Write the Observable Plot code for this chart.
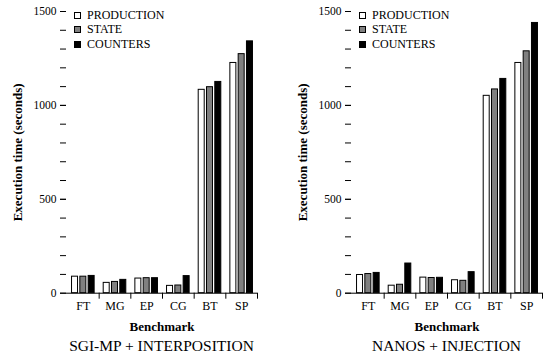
<!DOCTYPE html>
<html><head><meta charset="utf-8">
<script src="https://cdn.jsdelivr.net/npm/d3@7"></script>
<script src="https://cdn.jsdelivr.net/npm/@observablehq/plot@0.6"></script>
<style>
body{margin:0;background:#fff;font-family:"Liberation Serif",serif;}
#wrap{display:flex;width:545px;height:359px;}
.panel{position:relative;}
.panel svg text{font-family:"Liberation Serif",serif !important;}
.legend{position:absolute;font-size:12px;color:#000;}
.legend .row{display:flex;align-items:center;height:14.5px;}
.legend .sw{width:5px;height:5px;border:1px solid #000;margin-right:6px;}
.caption{font-size:15.5px;text-align:center;height:24px;line-height:22px;color:#000;}
[aria-label="y-axis label"],[aria-label="x-axis label"]{font-weight:bold;font-size:13px;}
</style></head><body><div id="wrap"></div>
<script>
const benchmarks = ["FT","MG","EP","CG","BT","SP"];
const seriesNames = ["PRODUCTION","STATE","COUNTERS"];
const seriesFills = ["white","#808080","black"];
const sgiProduction = [88,55,78,39,1083,1226];
const sgiState      = [88,60,80,41,1097,1273];
const sgiCounters   = [92,71,80,91,1125,1341];
const nanosProduction = [97,40,83,69,1051,1226];
const nanosState      = [102,45,81,66,1085,1288];
const nanosCounters   = [108,158,82,112,1141,1439];
const yTicksMajor = [0,500,1000,1500];
const yTicksMinor = [0,100,200,300,400,500,600,700,800,900,1000,1100,1200,1300,1400,1500];
const yLabel = "Execution time (seconds)";
const xLabel = "Benchmark";

function panel({width, marginLeft, marginRight, series, caption}) {
  const height = 335, marginTop = 11, marginBottom = 42.3;
  const insetL = 1;
  const bw = (width - marginLeft - marginRight - insetL) / benchmarks.length;
  const barW = 6, step = 8.3;
  const start = (bw - (2 * step + barW)) / 2;
  const bars = series.map((vals, i) =>
    Plot.barY(benchmarks.map((b, j) => ({benchmark: b, value: vals[j]})), {
      x: "benchmark", y: "value", fill: seriesFills[i], stroke: "black", strokeWidth: 1,
      insetLeft: start + i * step, insetRight: bw - (start + i * step + barW)
    }));
  const chart = Plot.plot({
    width, height, marginTop, marginBottom, marginLeft, marginRight,
    style: {fontFamily: "'Liberation Serif', serif", fontSize: "11.5px", background: "white", color: "black", overflow: "visible"},
    x: {domain: benchmarks, padding: 0, insetLeft: insetL, round: false},
    y: {domain: [0, 1500]},
    marks: [
      ...bars,
      Plot.ruleY([0], {stroke: "black"}),
      Plot.axisY(yTicksMinor, {tickSize: 6, tickFormat: () => "", label: null, stroke: "black"}),
      Plot.axisY(yTicksMajor, {tickSize: 6, tickPadding: 4, tickFormat: d => String(d), label: yLabel, labelAnchor: "center", labelArrow: "none", labelOffset: 54, line: true, stroke: "black", fill: "black"}),
      Plot.axisX({tickSize: 6, tickFormat: () => "", dx: bw / 2, label: null, stroke: "black"}),
      Plot.axisX({tickSize: 0, tickPadding: 8, label: xLabel, labelAnchor: "center", labelArrow: "none", labelOffset: 38, fill: "black", fontSize: 12})
    ]
  });
  const div = document.createElement("div");
  div.className = "panel";
  div.style.width = width + "px";
  div.appendChild(chart);
  const leg = document.createElement("div");
  leg.className = "legend";
  leg.style.left = (marginLeft + 8) + "px";
  leg.style.top = (marginTop - 3) + "px";
  seriesNames.forEach((n, i) => {
    const r = document.createElement("div"); r.className = "row";
    const s = document.createElement("div"); s.className = "sw"; s.style.background = seriesFills[i];
    const t = document.createElement("span"); t.textContent = n;
    r.appendChild(s); r.appendChild(t); leg.appendChild(r);
  });
  div.appendChild(leg);
  const cap = document.createElement("div");
  cap.className = "caption";
  cap.style.paddingLeft = marginLeft + "px";
  cap.style.paddingRight = marginRight + "px";
  cap.textContent = caption;
  div.appendChild(cap);
  return div;
}

const wrap = document.getElementById("wrap");
wrap.appendChild(panel({width: 272, marginLeft: 66, marginRight: 15, series: [sgiProduction, sgiState, sgiCounters], caption: "SGI-MP + INTERPOSITION"}));
wrap.appendChild(panel({width: 273, marginLeft: 79, marginRight: 3, series: [nanosProduction, nanosState, nanosCounters], caption: "NANOS + INJECTION"}));
</script></body></html>
